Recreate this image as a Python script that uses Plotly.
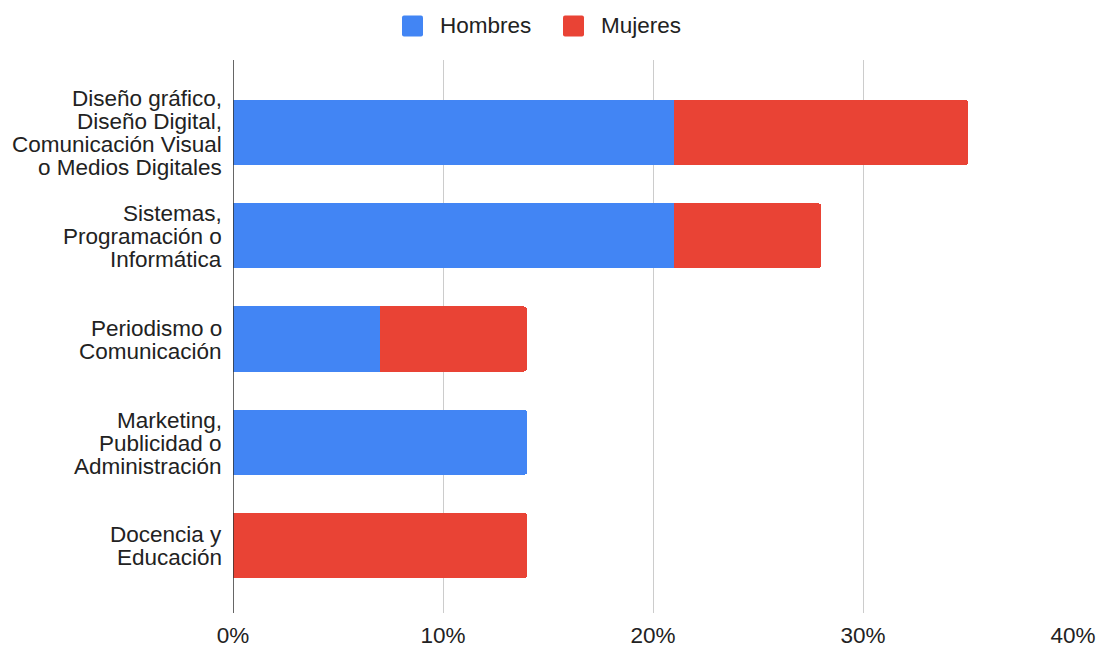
import plotly.graph_objects as go

# Career areas, top to bottom (each entry is a list of label lines)
categories = [
    "Diseño gráfico, Diseño Digital, Comunicación Visual o Medios Digitales",
    "Sistemas, Programación o Informática",
    "Periodismo o Comunicación",
    "Marketing, Publicidad o Administración",
    "Docencia y Educación",
]
category_lines = [
    ["Diseño gráfico,", "Diseño Digital,", "Comunicación Visual", "o Medios Digitales"],
    ["Sistemas,", "Programación o", "Informática"],
    ["Periodismo o", "Comunicación"],
    ["Marketing,", "Publicidad o", "Administración"],
    ["Docencia y", "Educación"],
]
series_names = ["Hombres", "Mujeres"]
hombres = [21, 21, 7, 14, 0]
mujeres = [14, 7, 7, 0, 14]
x_ticks = [0, 10, 20, 30, 40]
x_tick_labels = ["0%", "10%", "20%", "30%", "40%"]

BLUE = "#4285F4"
RED = "#E94335"
TEXT = "#222222"
FONT = "Arial, Liberation Sans, sans-serif"
FONT_SIZE = 22.5
LINE_STEP = 23  # vertical spacing of category label lines, px

W, H = 1099, 646
ML, MR, MT, MB = 233, 26, 60, 33
PW, PH = W - ML - MR, H - MT - MB

fig = go.Figure()
for name, vals, color in zip(series_names, [hombres, mujeres], [BLUE, RED]):
    fig.add_trace(go.Bar(y=categories, x=vals, name=name, orientation="h",
                         marker=dict(color=color, line=dict(width=0)),
                         showlegend=False))

# Category labels, right-aligned against the axis, with tight line spacing
annotations = []
for cat, lines in zip(categories, category_lines):
    n = len(lines)
    for i, line in enumerate(lines):
        offset = (i - (n - 1) / 2) * LINE_STEP
        annotations.append(dict(
            text=line, xref="paper", yref="y", x=0, y=cat,
            xanchor="right", yanchor="middle", xshift=-9, yshift=-offset - 1,
            showarrow=False, font=dict(family=FONT, size=FONT_SIZE, color=TEXT),
        ))


# Pixel -> paper coordinate helpers for the header legend
def px_x(px):
    return (px - ML) / PW


def px_y(py):
    return 1 + (MT - py) / PH


def rounded_square(left, cy, size, r):
    x0, x1 = left, left + size
    y0, y1 = cy - size / 2, cy + size / 2
    pts = [("M", x0 + r, y0), ("L", x1 - r, y0), ("Q", x1, y0, x1, y0 + r),
           ("L", x1, y1 - r), ("Q", x1, y1, x1 - r, y1), ("L", x0 + r, y1),
           ("Q", x0, y1, x0, y1 - r), ("L", x0, y0 + r), ("Q", x0, y0, x0 + r, y0)]
    parts = []
    for cmd, *coords in pts:
        xy = [f"{px_x(coords[k]):.5f},{px_y(coords[k + 1]):.5f}"
              for k in range(0, len(coords), 2)]
        parts.append(cmd + " ".join(xy))
    return " ".join(parts) + " Z"


# Legend at the top: rounded swatches followed by the series names
shapes = []
legend_left = [402, 563]
SWATCH = 21
LEG_CY = 26
for name, color, left in zip(series_names, [BLUE, RED], legend_left):
    shapes.append(dict(type="path", xref="paper", yref="paper",
                       path=rounded_square(left, LEG_CY, SWATCH, 2),
                       fillcolor=color, line=dict(width=0), layer="above"))
    annotations.append(dict(text=name, xref="paper", yref="paper",
                            x=px_x(left + SWATCH + 15), y=px_y(LEG_CY),
                            xanchor="left", yanchor="middle", showarrow=False,
                            font=dict(family=FONT, size=FONT_SIZE, color=TEXT)))

# Dark baseline at 0%
shapes.append(dict(type="line", xref="x", yref="paper", x0=0, x1=0, y0=0, y1=1,
                   line=dict(color="#333333", width=1.5), layer="above"))

fig.update_layout(
    width=W, height=H,
    barmode="stack", bargap=0.37, barcornerradius=3,
    plot_bgcolor="white", paper_bgcolor="white",
    margin=dict(l=ML, r=MR, t=MT, b=MB, autoexpand=False),
    font=dict(family=FONT, size=FONT_SIZE, color=TEXT),
    showlegend=False,
    xaxis=dict(range=[0, 40], tickvals=x_ticks, ticktext=x_tick_labels,
               showgrid=True, gridcolor="#CCCCCC", gridwidth=1.3,
               zeroline=False, showline=False, ticks="", automargin=False,
               ticklabelstandoff=6, fixedrange=True),
    yaxis=dict(range=[4.654, -0.702], showgrid=False, zeroline=False,
               showline=False, ticks="", showticklabels=False, automargin=False),
    annotations=annotations,
    shapes=shapes,
)

fig.write_html("out.html")
